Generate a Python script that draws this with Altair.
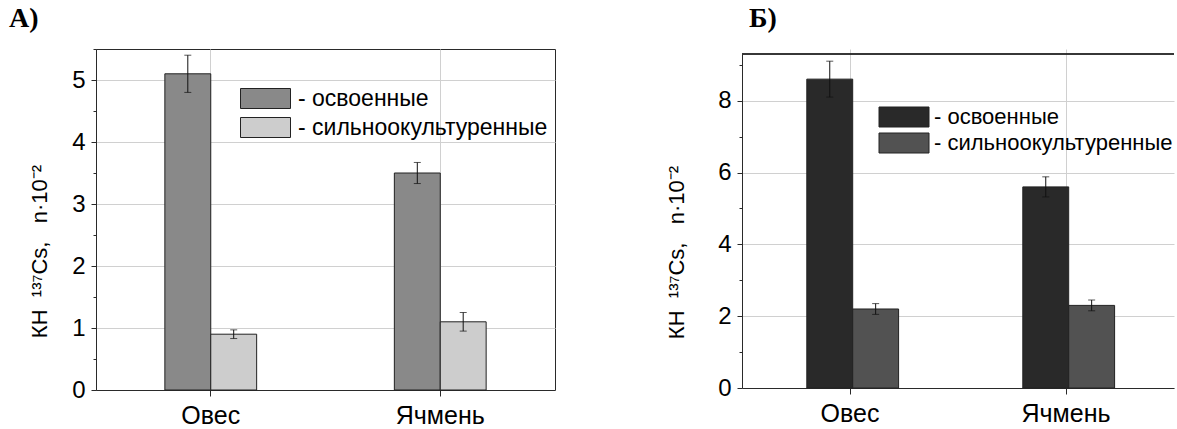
import altair as alt
import pandas as pd

# categories
crops = ["Овес", "Ячмень"]
soils = ["освоенные", "сильноокультуренные"]

# panel А: transfer factors and error half-widths
a_osv = [5.1, 3.5]
a_osv_err = [0.3, 0.17]
a_sil = [0.9, 1.1]
a_sil_err = [0.07, 0.15]

# panel Б
b_osv = [8.6, 5.6]
b_osv_err = [0.5, 0.28]
b_sil = [2.2, 2.3]
b_sil_err = [0.15, 0.15]

# y-axis tick values (major + minor)
a_ticks = [0, 0.5, 1, 1.5, 2, 2.5, 3, 3.5, 4, 4.5, 5, 5.5]
b_ticks = [0, 1, 2, 3, 4, 5, 6, 7, 8, 9]

a_colors = ["#898989", "#cdcdcd"]
b_colors = ["#292929", "#525252"]

NB = "\u00a0"  # non-breaking space keeps the gaps in SVG text
y_title = f"КН{NB * 2}¹³⁷Cs,{NB * 3}n·10⁻²"
FRAME = "#2a2a2a"


def frame(osv, osv_err, sil, sil_err):
    rows = []
    for soil, vals, errs in ((soils[0], osv, osv_err), (soils[1], sil, sil_err)):
        for crop, v, e in zip(crops, vals, errs):
            rows.append({"crop": crop, "soil": soil, "value": v,
                         "lo": v - e, "hi": v + e})
    return pd.DataFrame(rows)


def panel(df, ymax, y_range, ticks, major_step, colors, heading, w, h,
          head_dx, leg_x, leg_y, leg_offset, leg_gap, leg_font, title_pad,
          title_y, boxed):
    # crop groups sit at 1/4 and 3/4 of the width, each group 0.4 of a step wide
    x = alt.X("crop:N", sort=crops, title=None,
              scale=alt.Scale(paddingInner=0.6, paddingOuter=0.3),
              axis=alt.Axis(labelAngle=0, grid=True, bandPosition=0.5,
                            tickSize=6, labelPadding=7, labelFontSize=25))
    xo = alt.XOffset("soil:N", sort=soils,
                     scale=alt.Scale(paddingInner=0, paddingOuter=0))
    minor = f"datum.value % {major_step} !== 0"
    y_axis = alt.Axis(
        values=ticks,
        labelExpr=f"{minor} ? '' : '' + datum.value",
        tickSize={"condition": {"test": minor, "value": 3}, "value": 5},
        gridOpacity={"condition": {"test": minor, "value": 0}, "value": 1},
        labelFontSize=24, labelPadding=6,
        title=y_title, titleFontSize=22, titleFontWeight="normal",
        titlePadding=title_pad, titleY=title_y,
    )
    scale_y = alt.Scale(domain=[0, ymax], range=y_range, nice=False, zero=True)

    def y(field):
        return alt.Y(f"{field}:Q", scale=scale_y, axis=y_axis)

    bars = alt.Chart(df).mark_bar(stroke="#222", strokeWidth=1).encode(
        x=x, xOffset=xo, y=y("value"),
        color=alt.Color(
            "soil:N", sort=soils,
            scale=alt.Scale(domain=soils, range=colors),
            legend=alt.Legend(
                orient="none", legendX=leg_x, legendY=leg_y, title=None,
                symbolType="M-2.5,-1H2.5V1H-2.5Z", symbolSize=400,
                symbolStrokeColor="#222", symbolStrokeWidth=1,
                symbolOpacity=1, labelFontSize=leg_font,
                labelFont="Liberation Sans", labelColor="black",
                labelOffset=leg_offset, rowPadding=leg_gap, padding=0,
                labelLimit=600, labelExpr="'- ' + datum.label",
            ),
        ),
    )
    whisker = alt.Chart(df).mark_rule(color="#111", strokeWidth=1).encode(
        x=x, xOffset=xo, y=y("lo"), y2="hi:Q")
    cap_lo = alt.Chart(df).mark_tick(color="#111", thickness=1, size=7).encode(
        x=x, xOffset=xo, y=y("lo"))
    cap_hi = alt.Chart(df).mark_tick(color="#111", thickness=1, size=7).encode(
        x=x, xOffset=xo, y=y("hi"))

    layers = [bars, whisker, cap_lo, cap_hi]
    props = dict(
        width=w, height=h,
        title=alt.TitleParams(
            heading, font="Liberation Serif", fontWeight="bold", fontSize=28,
            anchor="start", frame="group", dx=head_dx, offset=16,
            color="black",
        ),
    )
    if not boxed:
        # open frame: only the top edge above the axes
        top_edge = alt.Chart(df).mark_rule(color=FRAME, strokeWidth=1).encode(
            x=alt.value(0), x2=alt.value(w), y=alt.value(y_range[1]))
        layers.append(top_edge)
        props["view"] = alt.ViewBackground(stroke="transparent")
    return alt.layer(*layers).properties(**props)


left = panel(frame(a_osv, a_osv_err, a_sil, a_sil_err), 5.5, [341, 0],
             a_ticks, 1, a_colors, "А)", 459, 341, -87, 158, 38, 21, 4, 23,
             20, 202, True)
right = panel(frame(b_osv, b_osv_err, b_sil, b_sil_err), 9.3, [339, 5],
              b_ticks, 2, b_colors, "Б)", 432, 339, 7, 151, 57, 19, 2, 22,
              29, 203, False)

chart = alt.hconcat(left, right, spacing=109).resolve_scale(
    color="independent", y="independent"
).properties(
    padding={"left": 8, "top": 4, "right": 0, "bottom": 0},
    background="white",
).configure_view(
    stroke=FRAME, strokeWidth=1
).configure_axis(
    labelFont="Liberation Sans", titleFont="Liberation Sans",
    labelColor="black", titleColor="black", titleFontWeight="normal",
    gridColor="#d0d0d0", domainColor=FRAME, tickColor=FRAME,
)

chart.save("out.html", embed_options={"renderer": "svg", "actions": False})
